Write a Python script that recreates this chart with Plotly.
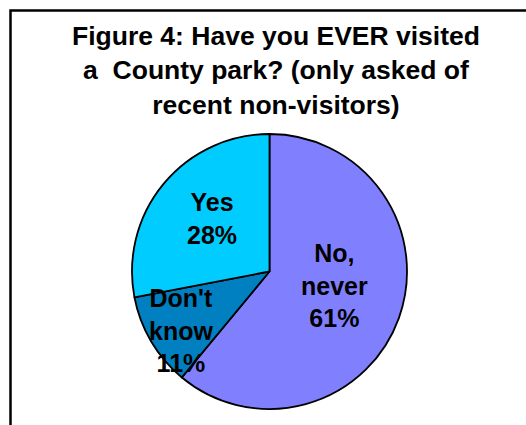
import plotly.graph_objects as go

# Survey responses: ever visited a County park (recent non-visitors only)
labels = ["No,<br>never", "Don't<br>know", "Yes"]
values = [61, 11, 28]
colors = ["#8080FF", "#0080C0", "#00CCFF"]

W, H = 526, 425
FONT = "Liberation Sans, Arial, sans-serif"

# Pie placement in pixels
cx, cy, r = 269.5, 271.5, 137.5

fig = go.Figure(
    go.Pie(
        labels=labels,
        values=values,
        sort=False,
        direction="clockwise",
        rotation=0,
        marker=dict(colors=colors, line=dict(color="black", width=1.8)),
        textinfo="none",
        hoverinfo="label+percent",
        showlegend=False,
        domain=dict(
            x=[(cx - r) / W, (cx + r) / W],
            y=[1 - (cy + r) / H, 1 - (cy - r) / H],
        ),
    )
)

# Slice labels (label + percentage) placed inside each slice
label_pos = [(334, 285), (181, 330), (212, 218)]
annotations = []
for lab, val, (px, py) in zip(labels, values, label_pos):
    annotations.append(
        dict(
            text=f"<b>{lab}<br>{val}%</b>",
            x=px / W,
            y=1 - py / H,
            xref="paper",
            yref="paper",
            xanchor="center",
            yanchor="middle",
            showarrow=False,
            font=dict(family=FONT, size=25, color="black"),
            align="center",
        )
    )

fig.update_layout(
    width=W,
    height=H,
    margin=dict(l=0, r=0, t=0, b=0),
    paper_bgcolor="white",
    plot_bgcolor="white",
    title=dict(
        text="<b>Figure 4: Have you EVER visited<br>a&nbsp; County park? (only asked of<br>recent non-visitors)</b>",
        x=276 / W,
        xanchor="center",
        y=1 - 45 / H,
        yanchor="top",
        xref="container",
        yref="container",
        font=dict(family=FONT, size=26.5, color="black"),
    ),
    annotations=annotations,
    shapes=[
        dict(
            type="rect",
            xref="paper",
            yref="paper",
            x0=10.5 / W,
            x1=1.05,
            y0=-0.05,
            y1=1 - 10.5 / H,
            line=dict(color="black", width=2.5),
            fillcolor="rgba(0,0,0,0)",
        )
    ],
)

fig.write_html("out.html")
